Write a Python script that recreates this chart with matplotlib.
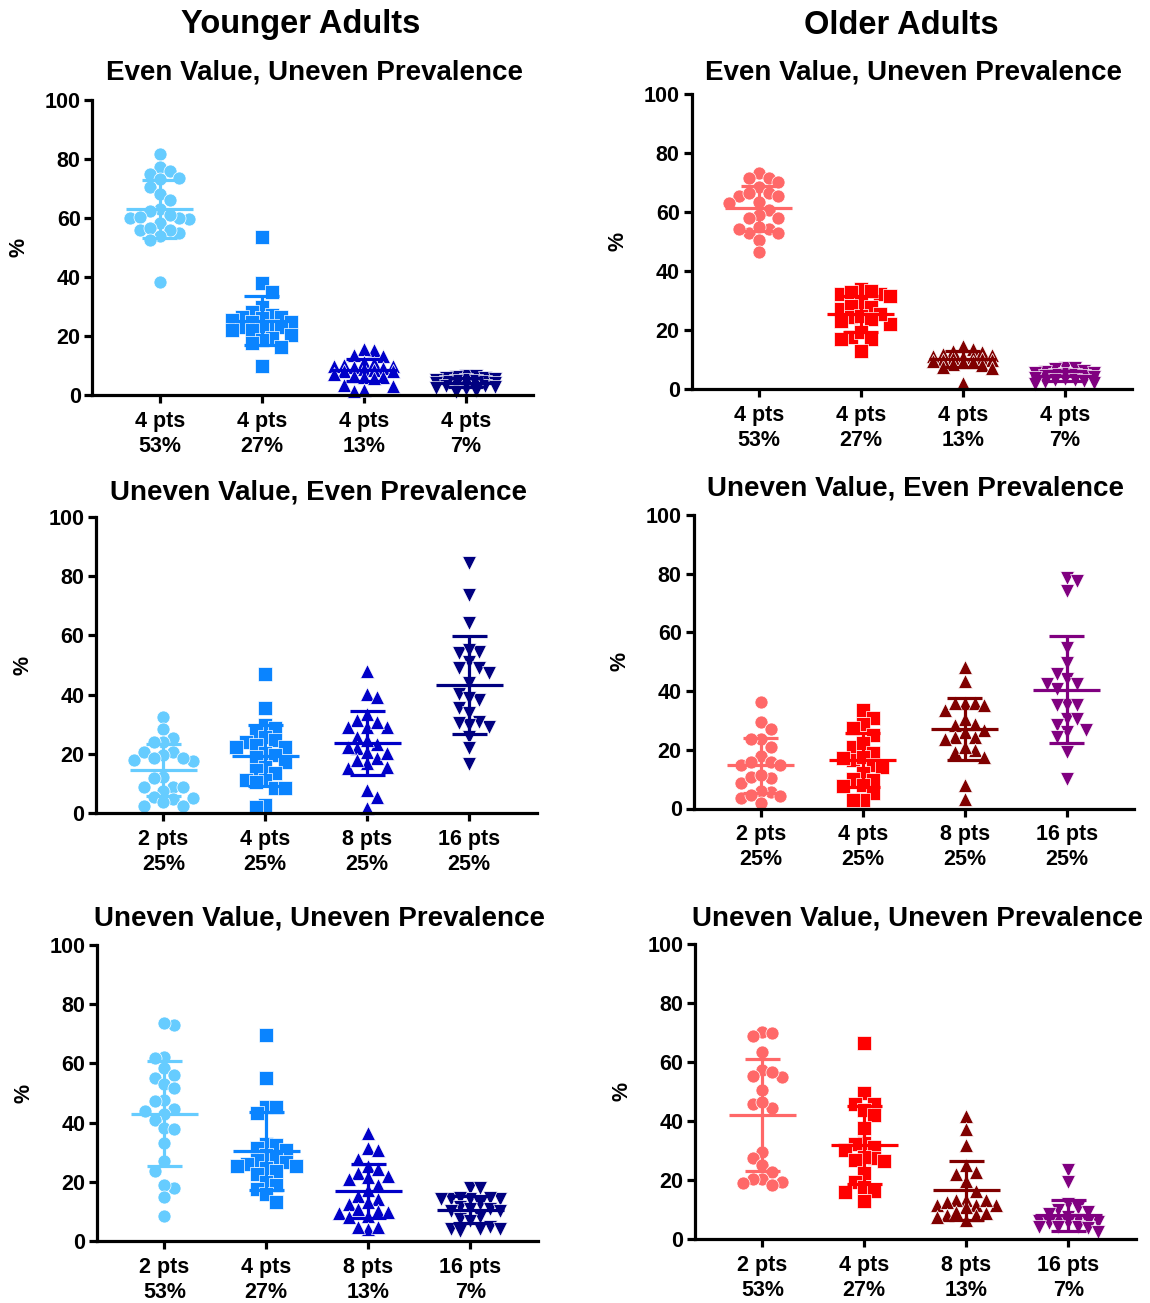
import numpy as np
import matplotlib
matplotlib.use('Agg')
import matplotlib.pyplot as plt

plt.rcParams.update({'font.family': 'Liberation Sans', 'font.weight': 'bold',
                     'font.size': 15.5})

# ---- percent chosen per option, one list per group ----
# Younger adults, even value / uneven prevalence
yA1 = [81.6, 77.4, 76.0, 74.8, 73.7, 73.1, 70.6, 68.0, 66.1, 62.9, 62.4, 59.8,
       60.1, 60.1, 60.4, 60.9, 58.2, 55.0, 56.1, 56.1, 56.5, 53.9, 52.5, 38.3]
yA2 = [53.5, 37.8, 34.9, 30.0, 28.3, 27.2, 26.6, 26.6, 26.1, 25.5, 24.9, 24.9,
       23.5, 23.2, 23.2, 22.7, 22.1, 22.1, 20.4, 19.3, 18.7, 17.6, 16.4, 9.9]
yA3 = [15.2, 15.5, 13.3, 13.5, 11.2, 11.0, 10.2, 10.0, 9.8, 9.5, 9.0, 8.8,
       8.5, 8.3, 8.0, 7.0, 6.5, 6.2, 6.0, 5.8, 3.5, 2.9, 1.8, 1.5]
yA4 = [6.5, 6.3, 6.0, 5.8, 5.6, 5.4, 5.2, 5.0, 4.8, 4.6, 4.5, 4.3,
       4.1, 4.0, 3.8, 3.6, 3.4, 3.2, 3.0, 2.8, 2.5, 2.0, 1.5, 1.0]

# Younger adults, uneven value / even prevalence
yB1 = [32.5, 28.3, 25.2, 24.1, 24.1, 20.7, 19.6, 17.9, 17.7, 18.5, 20.7, 18.5,
       12.0, 11.7, 8.7, 7.5, 8.7, 8.7, 4.6, 5.5, 5.0, 3.6, 2.4, 2.4]
yB2 = [46.8, 35.4, 29.7, 28.6, 27.5, 25.8, 24.7, 24.1, 23.0, 22.4, 22.4, 20.2,
       19.6, 19.0, 17.3, 15.7, 14.5, 13.4, 11.1, 11.1, 10.6, 8.3, 8.3, 2.7, 2.1]
yB3 = [48.0, 40.2, 39.1, 33.3, 31.4, 29.2, 28.9, 29.2, 30.9, 25.8, 23.3, 24.7,
       21.8, 20.7, 22.4, 18.5, 20.2, 16.8, 15.1, 17.9, 15.7, 7.8, 5.3, 1.8]
yB4 = [84.6, 73.6, 64.1, 53.9, 54.5, 55.1, 51.1, 49.1, 48.9, 47.4, 43.8, 40.1,
       38.2, 38.7, 35.4, 33.9, 28.9, 30.9, 29.7, 30.5, 25.8, 21.8, 16.6]

# Younger adults, uneven value / uneven prevalence
yC1 = [73.0, 73.6, 62.3, 61.9, 58.3, 56.0, 54.9, 52.9, 51.8, 47.6, 47.2, 43.8,
       44.5, 42.8, 40.8, 38.2, 38.0, 33.2, 26.9, 23.8, 18.0, 19.0, 14.8, 8.6]
yC2 = [69.6, 55.1, 45.3, 45.3, 43.1, 32.9, 32.3, 31.5, 30.6, 28.9, 28.4, 27.5,
       26.7, 26.1, 25.5, 25.5, 24.6, 23.5, 22.7, 19.9, 18.8, 17.6, 15.9, 13.1]
yC3 = [36.5, 31.4, 30.6, 27.8, 25.5, 24.4, 23.1, 22.1, 21.6, 20.8, 18.8, 17.1,
       15.1, 14.2, 13.1, 12.5, 10.8, 10.3, 9.9, 9.5, 8.4, 8.0, 4.1, 4.6, 4.6]
yC4 = [17.9, 17.9, 14.2, 14.2, 14.2, 14.2, 14.5, 14.5, 12.5, 11.5, 10.3, 10.8,
       10.8, 10.3, 8.0, 7.5, 6.9, 4.6, 4.1, 4.1, 4.1, 3.5]

# Older adults, even value / uneven prevalence
oA1 = [73.1, 71.5, 71.5, 70.3, 68.4, 66.3, 65.5, 66.6, 65.5, 63.3, 62.9,
       60.7, 59.1, 58.0, 58.0, 54.2, 52.8, 52.8, 54.2, 55.0, 50.6, 46.6]
oA2 = [33.9, 32.2, 32.2, 31.6, 32.8, 33.1, 27.1, 28.8, 28.2, 27.7, 22.0,
       24.3, 25.4, 24.9, 23.2, 23.7, 17.5, 19.2, 16.9, 16.9, 13.0]
oA3 = [14.6, 13.5, 12.9, 12.5, 12.0, 11.5, 11.2, 11.0, 10.8, 10.5, 10.3,
       10.0, 9.8, 9.5, 9.2, 9.0, 8.5, 8.0, 7.5, 7.0, 2.0]
oA4 = [7.2, 7.0, 6.8, 6.2, 5.8, 5.5, 5.3, 5.0, 4.8, 4.6, 4.5,
       4.3, 4.0, 3.8, 3.5, 3.2, 3.0, 2.7, 2.4, 2.0, 1.8]

# Older adults, uneven value / even prevalence
oB1 = [36.2, 29.6, 27.0, 23.6, 23.6, 21.1, 17.9, 14.8, 16.0, 16.0, 14.8,
       10.3, 8.8, 10.9, 11.4, 5.7, 4.3, 6.1, 3.7, 4.6, 1.8]
oB2 = [33.4, 31.0, 28.8, 25.1, 27.3, 20.9, 22.2, 18.8, 16.6, 17.7, 17.1,
       14.8, 12.0, 14.3, 10.0, 7.5, 9.7, 8.0, 5.2, 2.9, 2.9]
oB3 = [48.1, 43.5, 35.9, 35.9, 33.4, 35.9, 35.3, 30.4, 28.5, 28.7, 25.9,
       26.8, 24.5, 24.5, 23.6, 20.0, 19.1, 20.9, 17.7, 8.0, 3.1]
oB4 = [78.5, 77.4, 74.0, 54.7, 49.5, 44.1, 45.8, 42.4, 40.7, 42.4, 35.3,
       35.3, 35.3, 30.4, 30.4, 28.5, 26.2, 26.8, 24.3, 19.4, 10.0]

# Older adults, uneven value / uneven prevalence
oC1 = [70.3, 68.9, 69.8, 63.3, 57.4, 54.8, 56.5, 55.2, 50.6, 44.4, 45.8,
       46.4, 29.5, 27.6, 25.0, 22.7, 20.5, 19.4, 20.2, 19.0, 18.2]
oC2 = [66.3, 49.5, 45.8, 45.8, 43.8, 41.9, 37.7, 32.7, 31.2, 32.3, 30.1,
       27.3, 27.8, 26.4, 26.7, 22.5, 19.4, 17.7, 16.3, 15.8, 13.0]
oC3 = [41.6, 37.4, 31.8, 25.0, 22.7, 19.7, 22.0, 16.3, 11.5, 13.2, 11.5,
       13.2, 11.5, 10.9, 12.6, 13.2, 8.1, 8.1, 8.7, 9.2, 6.6, 7.3]
oC4 = [23.5, 19.4, 12.0, 9.8, 10.4, 9.0, 8.5, 7.5, 6.5, 5.9, 5.9, 6.2,
       5.3, 5.3, 5.9, 4.2, 3.6, 4.2, 4.2, 2.5]

labels_A = ['4 pts\n53%', '4 pts\n27%', '4 pts\n13%', '4 pts\n7%']
labels_B = ['2 pts\n25%', '4 pts\n25%', '8 pts\n25%', '16 pts\n25%']
labels_C = ['2 pts\n53%', '4 pts\n27%', '8 pts\n13%', '16 pts\n7%']

title_A = 'Even Value, Uneven Prevalence'
title_B = 'Uneven Value, Even Prevalence'
title_C = 'Uneven Value, Uneven Prevalence'

young_colors = ['#66ccff', '#0a84ff', '#0000c8', '#000080']
old_colors = ['#ff6868', '#ff0000', '#800000', '#800080']
markers = ['o', 's', '^', 'v']

W, H = 1150, 1303
AX_W = 440.6  # px
XLIM = (0.34, 4.66)


def swarm(vals, ppu, step=9.8, gap=11.5, reach=3):
    """Column-packed scatter offsets (in px) so points don't pile up."""
    vals = np.asarray(vals, float)
    offs = np.zeros(len(vals))
    placed = {k: [] for k in range(-reach, reach + 1)}
    flip = 1
    for i in np.argsort(-vals):
        y = vals[i] * ppu
        cands = [0]
        for k in range(1, reach + 1):
            cands += [flip * k, -flip * k]
        best, best_d = None, -1.0
        for k in cands:
            d = min((abs(y - q) for q in placed[k]), default=np.inf)
            if d >= gap:
                best = k
                break
            if d > best_d:
                best, best_d = k, d
        placed[best].append(y)
        offs[i] = best * step
        if best != 0:
            flip = -int(np.sign(best))
    return offs


def dot_panel(left, top, bottom, groups, colors, labels, title, title_y):
    ax = fig.add_axes([left / W, 1 - bottom / H, AX_W / W, (bottom - top) / H])
    ppu = (bottom - top) / 100.0
    ppc = AX_W / (XLIM[1] - XLIM[0])
    for i, (vals, c, m) in enumerate(zip(groups, colors, markers)):
        x0 = i + 1
        xs = x0 + swarm(vals, ppu) / ppc
        ax.scatter(xs, vals, s=100 if m in '^v' else 88, marker=m, color=c,
                   edgecolors='white', linewidths=0.5, clip_on=False, zorder=2)
        mu, sd = np.mean(vals), np.std(vals, ddof=1)
        kw = dict(color=c, lw=2.3, zorder=3, solid_capstyle='butt', clip_on=False)
        ax.plot([x0 - 0.33, x0 + 0.33], [mu, mu], **kw)
        ax.plot([x0, x0], [mu - sd, mu + sd], **kw)
        ax.plot([x0 - 0.17, x0 + 0.17], [mu + sd] * 2, **kw)
        ax.plot([x0 - 0.17, x0 + 0.17], [mu - sd] * 2, **kw)

    ax.set_xlim(*XLIM)
    ax.set_ylim(0, 100)
    ax.set_yticks(range(0, 101, 20))
    ax.set_xticks([1, 2, 3, 4])
    ax.set_xticklabels(labels, linespacing=1.25)
    for s in ['top', 'right']:
        ax.spines[s].set_visible(False)
    for s in ['left', 'bottom']:
        ax.spines[s].set_linewidth(2.3)
        ax.spines[s].set_capstyle('projecting')
    ax.tick_params(axis='both', width=2.3, length=5.5, color='black')
    ax.tick_params(axis='y', pad=3)
    ax.tick_params(axis='x', pad=6)
    ax.set_ylabel('%', fontsize=15.5, fontweight='bold', va='center')
    ax.yaxis.set_label_coords(-73 / AX_W, 0.5)
    cx = (left + AX_W / 2 + 2) / W
    fig.text(cx, 1 - title_y / H, title, ha='center', va='center',
             fontsize=20, fontweight='bold')
    return ax


fig = plt.figure(figsize=(W / 100, H / 100), dpi=100)

fig.text(301 / W, 1 - 25 / H, 'Younger Adults', ha='center', va='center',
         fontsize=23.5, fontweight='bold')
fig.text(901 / W, 1 - 25 / H, 'Older Adults', ha='center', va='center',
         fontsize=23.5, fontweight='bold')

dot_panel(92.5, 100, 395, [yA1, yA2, yA3, yA4], young_colors, labels_A, title_A, 73)
dot_panel(96, 517, 813, [yB1, yB2, yB3, yB4], young_colors, labels_B, title_B, 492)
dot_panel(97, 945, 1241, [yC1, yC2, yC3, yC4], young_colors, labels_C, title_C, 919)

dot_panel(691.5, 94, 389, [oA1, oA2, oA3, oA4], old_colors, labels_A, title_A, 73)
dot_panel(693.5, 515, 808.5, [oB1, oB2, oB3, oB4], old_colors, labels_B, title_B, 489)
dot_panel(695, 944, 1239, [oC1, oC2, oC3, oC4], old_colors, labels_C, title_C, 918)

fig.savefig('out.png', dpi=100)
